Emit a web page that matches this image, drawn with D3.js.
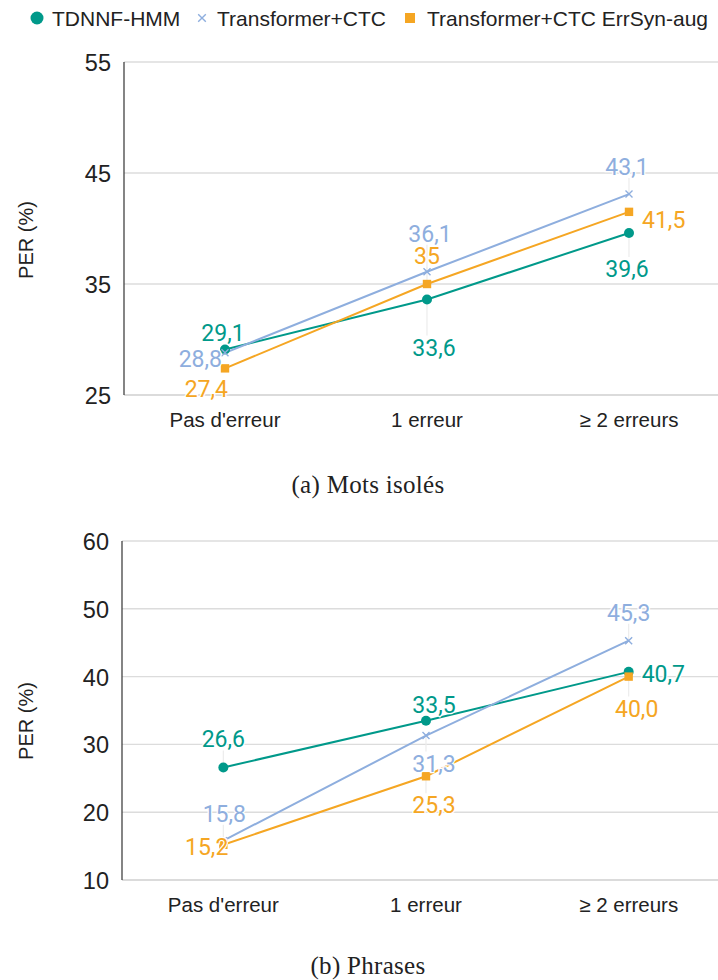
<!DOCTYPE html>
<html>
<head>
<meta charset="utf-8">
<script src="https://cdn.jsdelivr.net/npm/d3@7"></script>
<style>
  html, body { margin: 0; padding: 0; background: #fff; }
  svg { display: block; }
</style>
</head>
<body>
<svg id="chart" width="718" height="980"></svg>
<script>
// ---------- DATA ----------
const categories = ["Pas d'erreur", "1 erreur", "\u2265 2 erreurs"];
const seriesNames = ["TDNNF-HMM", "Transformer+CTC", "Transformer+CTC ErrSyn-aug"];

// (a) Mots isolés
const motsTDNNF = [29.1, 33.6, 39.6];
const motsTransformer = [28.8, 36.1, 43.1];
const motsErrSyn = [27.4, 35, 41.5];
const motsTicks = [25, 35, 45, 55];

// (b) Phrases
const phrTDNNF = [26.6, 33.5, 40.7];
const phrTransformer = [15.8, 31.3, 45.3];
const phrErrSyn = [15.2, 25.3, 40.0];
const phrTicks = [10, 20, 30, 40, 50, 60];

const captions = ["(a) Mots isol\u00e9s", "(b) Phrases"];
const yTitle = "PER (%)";

// ---------- STYLE / LAYOUT ----------
const colors = ["#00998a", "#8eaede", "#f5a623"];
const markers = ["circle", "cross", "square"];
const W = 718;

// label placement offsets [dx, dy(baseline), anchor] per series per point
const motsLabelPos = [
  [[-2, -8, "middle"], [7, 56, "middle"], [-2, 44, "middle"]],
  [[-3, 14, "end"], [3, -30, "middle"], [-2, -19, "middle"]],
  [[3, 29, "end"], [0, -20, "middle"], [13, 16, "start"]]
];
const phrLabelPos = [
  [[0, -20, "middle"], [8, -8, "middle"], [13, 10, "start"]],
  [[1, -19, "middle"], [8, 36, "middle"], [0, -20, "middle"]],
  [[5, 10, "end"], [8, 37, "middle"], [8, 40, "middle"]]
];

const svg = d3.select("#chart");

// ---------- LEGEND ----------
const legend = svg.append("g").attr("class", "legend");
const legendItems = [
  { mx: 37, tx: 52 },
  { mx: 202, tx: 217 },
  { mx: 410, tx: 427 }
];
function drawMarker(g, type, x, y, color, size) {
  if (type === "circle") {
    g.append("circle").attr("cx", x).attr("cy", y).attr("r", size).attr("fill", color);
  } else if (type === "square") {
    g.append("rect").attr("x", x - size).attr("y", y - size)
      .attr("width", size * 2).attr("height", size * 2).attr("fill", color);
  } else {
    const s = size;
    g.append("path")
      .attr("d", `M${x - s},${y - s}L${x + s},${y + s}M${x - s},${y + s}L${x + s},${y - s}`)
      .attr("stroke", color).attr("stroke-width", 1.4).attr("fill", "none");
  }
}
seriesNames.forEach((name, i) => {
  const it = legendItems[i];
  const sz = markers[i] === "circle" ? 6.5 : (markers[i] === "square" ? 5 : 3.8);
  drawMarker(legend, markers[i], it.mx, 18, colors[i], sz);
  legend.append("text")
    .attr("x", it.tx).attr("y", 26)
    .attr("font-family", "'Liberation Sans', Arial, sans-serif")
    .attr("font-size", 21)
    .attr("fill", "#222")
    .text(name);
});

// ---------- CHART FUNCTION ----------
function drawChart(cfg) {
  const g = svg.append("g");
  const x = d3.scaleBand().domain(categories).range([cfg.left, 730]).padding(0);
  const y = d3.scaleLinear().domain([cfg.ticks[0], cfg.ticks[cfg.ticks.length - 1]])
    .range([cfg.bottom, cfg.top]);
  const cx = c => x(c) + x.bandwidth() / 2;

  // tick labels via axis
  const yAxis = d3.axisLeft(y).tickValues(cfg.ticks).tickSize(0).tickPadding(13)
    .tickFormat(d3.format("d"));
  const ag = g.append("g").attr("transform", `translate(${cfg.left},0)`).call(yAxis);
  ag.select(".domain").remove();
  ag.selectAll("text")
    .attr("font-family", "'Liberation Sans', Arial, sans-serif")
    .attr("font-size", 23.5)
    .attr("fill", "#222")
    .attr("dy", "0.36em");

  // gridlines
  g.append("g").selectAll("line").data(cfg.ticks).join("line")
    .attr("x1", cfg.left).attr("x2", W)
    .attr("y1", d => y(d)).attr("y2", d => y(d))
    .attr("stroke", d => d === cfg.ticks[0] ? "#cfcfcf" : "#dcdcdc")
    .attr("stroke-width", 1.4);

  // left axis line
  g.append("line")
    .attr("x1", cfg.left).attr("x2", cfg.left)
    .attr("y1", y(cfg.ticks[cfg.ticks.length - 1])).attr("y2", y(cfg.ticks[0]))
    .attr("stroke", "#333").attr("stroke-width", 1.2);

  // x axis labels
  const xAxis = d3.axisBottom(x).tickSize(0).tickPadding(0);
  const xg = g.append("g").attr("transform", `translate(0,${cfg.bottom})`).call(xAxis);
  xg.select(".domain").remove();
  xg.selectAll("text")
    .attr("font-family", "'Liberation Sans', Arial, sans-serif")
    .attr("font-size", 20.5)
    .attr("fill", "#222")
    .attr("dy", 0)
    .attr("y", 32);

  // y title
  g.append("text")
    .attr("transform", `translate(${cfg.titleX},${cfg.titleY}) rotate(-90)`)
    .attr("text-anchor", "middle")
    .attr("dy", "0.35em")
    .attr("font-family", "'Liberation Sans', Arial, sans-serif")
    .attr("font-size", 20)
    .attr("fill", "#222")
    .text(yTitle);

  const line = d3.line().x((d, i) => cx(categories[i])).y(d => y(d));

  // leader lines
  const leaders = g.append("g");
  cfg.series.forEach((vals, si) => {
    vals.forEach((v, i) => {
      const p = cfg.labelPos[si][i];
      if (p[2] !== "middle" || Math.abs(p[1]) < 15) return;
      const px = cx(categories[i]), py = y(v);
      const y2 = p[1] < 0 ? py + p[1] + 3 : py + p[1] - 20;
      leaders.append("line")
        .attr("x1", px).attr("x2", px).attr("y1", py).attr("y2", y2)
        .attr("stroke", "#ececec").attr("stroke-width", 1.2);
    });
  });

  // lines
  cfg.series.forEach((vals, si) => {
    g.append("path").datum(vals)
      .attr("d", line)
      .attr("fill", "none")
      .attr("stroke", colors[si])
      .attr("stroke-width", 2);
  });

  // markers
  cfg.series.forEach((vals, si) => {
    const mg = g.append("g");
    vals.forEach((v, i) => {
      const sz = markers[si] === "circle" ? 5 : (markers[si] === "square" ? 4.2 : 3.5);
      drawMarker(mg, markers[si], cx(categories[i]), y(v), colors[si], sz);
    });
  });

  // labels
  cfg.series.forEach((vals, si) => {
    const lg = g.append("g");
    vals.forEach((v, i) => {
      const p = cfg.labelPos[si][i];
      lg.append("text")
        .attr("x", cx(categories[i]) + p[0])
        .attr("y", y(v) + p[1])
        .attr("text-anchor", p[2])
        .attr("font-family", "Roboto, 'Noto Sans', sans-serif")
        .attr("font-size", 23)
        .attr("fill", colors[si])
        .attr("stroke", "#fff").attr("stroke-width", 2.5)
        .attr("paint-order", "stroke")
        .text(cfg.fmt(v));
    });
  });

  // caption
  svg.append("text")
    .attr("x", 368).attr("y", cfg.captionY)
    .attr("text-anchor", "middle")
    .attr("font-family", "'Liberation Serif', 'DejaVu Serif', serif")
    .attr("font-size", 25)
    .attr("letter-spacing", 0.3)
    .attr("fill", "#222")
    .text(cfg.caption);
}

const commaFmt = f => v => f(v).replace(".", ",");

drawChart({
  left: 124, top: 62, bottom: 395,
  ticks: motsTicks,
  series: [motsTDNNF, motsTransformer, motsErrSyn],
  labelPos: motsLabelPos,
  fmt: v => String(v).replace(".", ","),
  titleX: 26, titleY: 240,
  caption: captions[0], captionY: 493
});

drawChart({
  left: 122, top: 541, bottom: 880,
  ticks: phrTicks,
  series: [phrTDNNF, phrTransformer, phrErrSyn],
  labelPos: phrLabelPos,
  fmt: commaFmt(d3.format(".1f")),
  titleX: 26, titleY: 721,
  caption: captions[1], captionY: 974
});
</script>
</body>
</html>
